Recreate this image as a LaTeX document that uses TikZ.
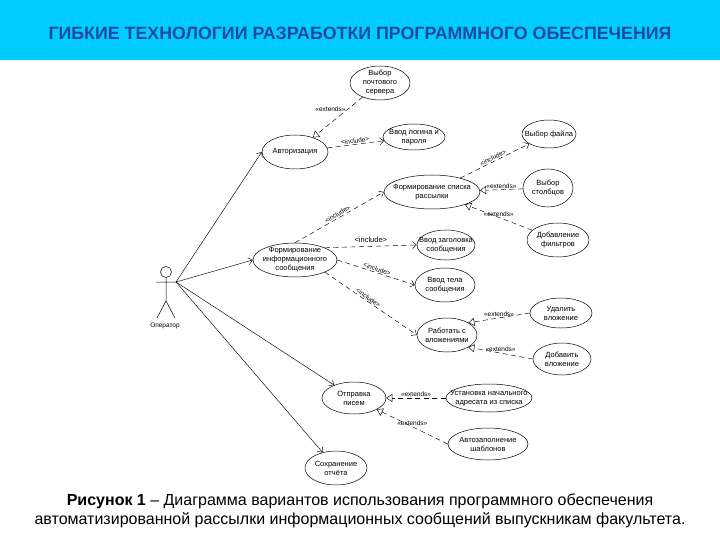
\documentclass[tikz,border=0pt]{standalone}
\usepackage{fontspec}
\setmainfont{Liberation Sans}
\usetikzlibrary{arrows.meta, shapes.geometric}
\definecolor{headcyan}{RGB}{0,204,255}
\definecolor{titleblue}{RGB}{31,73,165}

\begin{document}
\begin{tikzpicture}[x=1pt, y=-1pt,
  uc/.style={ellipse, draw, line width=0.5pt, inner sep=0pt},
  every label/.style={align=center, font=\fontsize{7.5}{9}\selectfont, inner sep=0pt},
  assoc/.style={line width=0.45pt, -{Straight Barb[length=4pt, width=7pt]}},
  incl/.style={line width=0.45pt, dash pattern=on 5pt off 3.5pt, -{Straight Barb[length=4pt, width=7pt]}},
  ext/.style={line width=0.45pt, dash pattern=on 5pt off 3.5pt, -{Triangle[open, length=6pt, width=8pt]}},
  stereo/.style={font=\fontsize{6.5}{7}\selectfont, inner sep=1pt}]
  \useasboundingbox (0,0) rectangle (720,540);
  % header
  \fill[headcyan] (0,0) rectangle (720,60);
  \node[font=\fontsize{17.8}{18}\selectfont\bfseries, text=titleblue] (title) at (360,33)
    {ГИБКИЕ ТЕХНОЛОГИИ РАЗРАБОТКИ ПРОГРАММНОГО ОБЕСПЕЧЕНИЯ};

  % actor
  \draw[line width=0.5pt] (166,272) circle[radius=5.5];
  \draw[line width=0.5pt] (166,277.5) -- (166,301) (156,282) -- (177,282)
    (157,318) -- (166,301) -- (175,318);
  \coordinate (hand) at (176,282);
  \node[stereo] (operator) at (165,326) {Оператор};

  % use cases
  \node[uc, minimum width=60, minimum height=34, label={center:Выбор\\почтового\\сервера}] (server) at (380,83) {};
  \node[uc, minimum width=62, minimum height=26, label={center:Ввод логина и\\пароля}] (login) at (414,137) {};
  \node[uc, minimum width=66, minimum height=34, label={center:Авторизация}] (auth) at (295,152) {};
  \node[uc, minimum width=96, minimum height=34, label={center:Формирование списка\\рассылки}] (list) at (432,192) {};
  \node[uc, minimum width=54, minimum height=28, label={center:Выбор файла}] (file) at (549,134) {};
  \node[uc, minimum width=50, minimum height=38, label={center:Выбор\\столбцов}] (cols) at (548,188) {};
  \node[uc, minimum width=62, minimum height=34, label={center:Добавление\\фильтров}] (filt) at (558,240) {};
  \node[uc, minimum width=58, minimum height=30, label={center:Ввод заголовка\\сообщения}] (subj) at (446,245) {};
  \node[uc, minimum width=84, minimum height=34, label={center:Формирование\\информационного\\сообщения}] (msg) at (295,260) {};
  \node[uc, minimum width=60, minimum height=34, label={center:Ввод тела\\сообщения}] (body) at (445,285) {};
  \node[uc, minimum width=60, minimum height=34, label={center:Работать с\\вложениями}] (att) at (447,335) {};
  \node[uc, minimum width=62, minimum height=30, label={center:Удалить\\вложение}] (del) at (561,313) {};
  \node[uc, minimum width=58, minimum height=32, label={center:Добавить\\вложение}] (add) at (562,359) {};
  \node[uc, minimum width=64, minimum height=32, label={center:Отправка\\писем}] (send) at (354,398) {};
  \node[uc, minimum width=86, minimum height=28, label={center:Установка начального\\адресата из списка}] (rcpt) at (489,398) {};
  \node[uc, minimum width=80, minimum height=32, label={center:Автозаполнение\\шаблонов}] (tmpl) at (488,444) {};
  \node[uc, minimum width=62, minimum height=34, label={center:Сохранение\\отчёта}] (report) at (336,468) {};

  % associations
  \foreach \t in {auth.west, msg.west, send, report}
    \draw[assoc] (hand) -- (\t);

  % include
  \draw[incl] (auth) -- (login) node[midway, sloped, above, stereo] {<include>};
  \draw[incl] (msg.north) -- (list.west) node[midway, sloped, above, stereo] {<include>};
  \draw[incl] (list) -- (file) node[midway, sloped, above, stereo] {<include>};
  \draw[incl] (msg.north east) -- (subj.west) node[midway, above, font=\fontsize{7.5}{8}\selectfont] {<include>};
  \draw[incl] (msg.east) -- (body.west) node[midway, sloped, above, stereo] {<include>};
  \draw[incl] (msg.south east) -- (att.west) node[pos=0.45, sloped, above, stereo] {<include>};

  % extends
  \draw[ext] (server) -- (auth) node[pos=0.3, left=1pt, stereo] {«extends»};
  \foreach \a/\b in {cols/list, filt/list, del.west/att.north east, add.west/att.south east,
                     rcpt.west/send.east, tmpl.west/send.south east}
    \draw[ext] (\a) -- (\b) node[midway, above, stereo] {«extends»};

  % caption
  \node[align=center, font=\fontsize{16}{19.5}\selectfont] (caption) at (360,511)
    {\textbf{Рисунок 1} – Диаграмма вариантов использования программного обеспечения\\
     автоматизированной рассылки информационных сообщений выпускникам факультета.};
\end{tikzpicture}
\end{document}
